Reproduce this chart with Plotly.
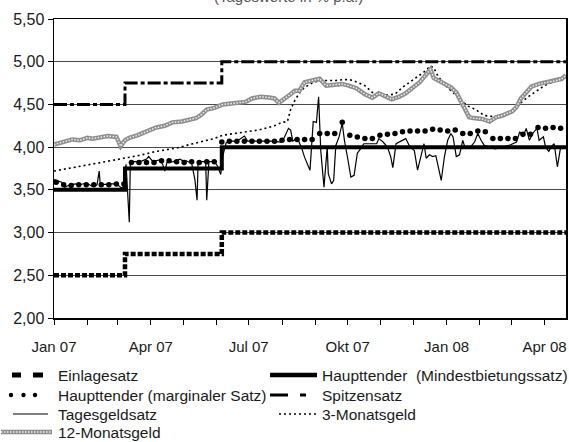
import plotly.graph_objects as go
import pandas as pd

# ---------------- data ----------------
policy_dates = ["2007-01-01", "2007-03-08", "2007-06-06", "2008-04-21"]
einlagesatz = [2.50, 2.75, 3.00, 3.00]
haupttender_min = [3.50, 3.75, 4.00, 4.00]
spitzensatz = [4.50, 4.75, 5.00, 5.00]

# weekly marginal rate of the main refinancing operations (from 3 Jan 2007)
marginal_start = "2007-01-03"
marginal = [3.59, 3.56, 3.55, 3.56, 3.56, 3.56, 3.56, 3.56, 3.57, 3.57,
            3.82, 3.82, 3.82, 3.82, 3.84, 3.84, 3.83, 3.82, 3.83, 3.82,
            3.83, 3.83, 4.06, 4.07, 4.07, 4.07, 4.07, 4.07, 4.07, 4.07,
            4.08, 4.09, 4.09, 4.09, 4.09, 4.16, 4.16, 4.16, 4.29, 4.14,
            4.12, 4.10, 4.10, 4.14, 4.15, 4.16, 4.18, 4.19, 4.19, 4.19,
            4.21, 4.20, 4.19, 4.20, 4.16, 4.16, 4.19, 4.18, 4.10, 4.10,
            4.10, 4.10, 4.15, 4.15, 4.23, 4.22, 4.23, 4.22]

tages_dates = [
    "2007-01-01", "2007-01-05", "2007-01-08", "2007-01-11", "2007-01-16", "2007-01-21",
    "2007-01-25", "2007-01-31", "2007-02-06", "2007-02-10", "2007-02-12", "2007-02-13",
    "2007-02-18", "2007-02-22", "2007-02-28", "2007-03-05", "2007-03-07", "2007-03-09",
    "2007-03-12", "2007-03-13", "2007-03-19", "2007-03-24", "2007-03-28", "2007-03-30",
    "2007-04-03", "2007-04-09", "2007-04-12", "2007-04-14", "2007-04-16", "2007-04-22",
    "2007-04-28", "2007-05-01", "2007-05-04", "2007-05-09", "2007-05-12", "2007-05-14",
    "2007-05-15", "2007-05-22", "2007-05-23", "2007-05-25", "2007-05-30", "2007-06-02",
    "2007-06-05", "2007-06-07", "2007-06-10", "2007-06-13", "2007-06-20", "2007-06-27",
    "2007-06-30", "2007-07-09", "2007-07-22", "2007-07-31", "2007-08-03", "2007-08-07",
    "2007-08-09", "2007-08-11", "2007-08-15", "2007-08-19", "2007-08-22", "2007-08-27",
    "2007-08-30", "2007-09-02", "2007-09-04", "2007-09-06", "2007-09-09", "2007-09-12",
    "2007-09-13", "2007-09-16", "2007-09-18", "2007-09-20", "2007-09-23", "2007-09-26",
    "2007-09-28", "2007-10-01", "2007-10-04", "2007-10-07", "2007-10-10", "2007-10-13",
    "2007-10-16", "2007-10-28", "2007-10-30", "2007-11-03", "2007-11-07", "2007-11-10",
    "2007-11-12", "2007-11-15", "2007-11-21", "2007-11-24", "2007-11-28", "2007-12-02",
    "2007-12-05", "2007-12-08", "2007-12-11", "2007-12-13", "2007-12-16", "2007-12-19",
    "2007-12-22", "2007-12-27", "2007-12-30", "2008-01-02", "2008-01-05", "2008-01-07",
    "2008-01-10", "2008-01-13", "2008-01-16", "2008-01-18", "2008-01-23", "2008-01-27",
    "2008-01-30", "2008-02-02", "2008-02-05", "2008-02-10", "2008-02-15", "2008-02-22",
    "2008-02-28", "2008-03-06", "2008-03-09", "2008-03-12", "2008-03-15", "2008-03-18",
    "2008-03-21", "2008-03-25", "2008-03-27", "2008-03-31", "2008-04-02", "2008-04-05",
    "2008-04-07", "2008-04-10", "2008-04-13", "2008-04-16", "2008-04-18", "2008-04-21"]
tagesgeld = [
    3.62, 3.60, 3.59, 3.53, 3.56, 3.57,
    3.56, 3.58, 3.54, 3.56, 3.72, 3.56,
    3.57, 3.57, 3.57, 3.52, 3.55, 3.80,
    3.12, 3.83, 3.83, 3.84, 3.86, 3.89,
    3.83, 3.85, 3.80, 3.72, 3.82, 3.83,
    3.86, 3.84, 3.84, 3.81, 3.62, 3.38,
    3.83, 3.83, 3.38, 3.83, 3.83, 3.78,
    3.68, 3.90, 4.05, 4.07, 4.07, 4.13,
    4.07, 4.07, 4.07, 4.06, 4.11, 4.22,
    4.20, 4.07, 4.11, 4.00, 3.88, 3.73,
    4.30, 4.29, 4.59, 3.96, 3.53, 4.00,
    3.69, 3.57, 3.61, 4.02, 4.12, 4.28,
    4.08, 3.87, 3.65, 3.67, 3.93, 3.98,
    4.04, 4.04, 4.10, 4.06, 4.00, 3.89,
    3.76, 4.04, 4.08, 4.10, 4.00, 3.96,
    3.73, 3.89, 4.04, 3.87, 3.91, 3.89,
    3.90, 3.61, 3.89, 4.08, 4.16, 4.12,
    3.89, 3.91, 4.08, 4.00, 4.00, 4.06,
    4.16, 4.08, 4.02, 4.00, 3.98, 4.00,
    4.02, 4.06, 4.18, 4.12, 4.22, 4.08,
    4.16, 4.22, 4.08, 4.12, 4.00, 3.95,
    4.00, 4.04, 3.77, 4.00, 3.98, 4.00]

m3_dates = [
    "2007-01-01", "2007-01-18", "2007-02-01", "2007-02-20", "2007-03-08", "2007-03-20",
    "2007-04-06", "2007-04-25", "2007-05-10", "2007-05-30", "2007-06-07", "2007-06-25",
    "2007-07-10", "2007-07-25", "2007-08-01", "2007-08-06", "2007-08-09", "2007-08-13",
    "2007-08-17", "2007-08-22", "2007-08-29", "2007-09-05", "2007-09-12", "2007-09-20",
    "2007-09-26", "2007-10-03", "2007-10-10", "2007-10-17", "2007-10-24", "2007-10-31",
    "2007-11-07", "2007-11-14", "2007-11-21", "2007-11-28", "2007-12-05", "2007-12-11",
    "2007-12-17", "2007-12-20", "2007-12-24", "2007-12-31", "2008-01-07", "2008-01-14",
    "2008-01-21", "2008-01-28", "2008-02-05", "2008-02-12", "2008-02-19", "2008-02-26",
    "2008-03-04", "2008-03-11", "2008-03-18", "2008-03-25", "2008-04-01", "2008-04-08",
    "2008-04-15", "2008-04-21"]
monatsgeld_3 = [
    3.72, 3.76, 3.79, 3.83, 3.87, 3.90,
    3.95, 3.99, 4.04, 4.10, 4.14, 4.17,
    4.20, 4.25, 4.29, 4.30, 4.44, 4.55,
    4.63, 4.70, 4.75, 4.78, 4.78, 4.78,
    4.79, 4.79, 4.76, 4.72, 4.64, 4.62,
    4.61, 4.62, 4.70, 4.76, 4.83, 4.88,
    4.95, 4.93, 4.83, 4.72, 4.64, 4.55,
    4.48, 4.44, 4.37, 4.36, 4.37, 4.39,
    4.43, 4.53, 4.60, 4.66, 4.72, 4.76,
    4.79, 4.82]

m12_dates = [
    "2007-01-01", "2007-01-10", "2007-01-18", "2007-01-25", "2007-02-01", "2007-02-06",
    "2007-02-12", "2007-02-20", "2007-02-28", "2007-03-04", "2007-03-08", "2007-03-12",
    "2007-03-20", "2007-03-28", "2007-04-06", "2007-04-14", "2007-04-21", "2007-04-30",
    "2007-05-07", "2007-05-13", "2007-05-18", "2007-05-23", "2007-05-30", "2007-06-07",
    "2007-06-15", "2007-06-22", "2007-06-28", "2007-07-04", "2007-07-12", "2007-07-20",
    "2007-07-25", "2007-07-29", "2007-08-03", "2007-08-08", "2007-08-13", "2007-08-17",
    "2007-08-22", "2007-08-29", "2007-09-05", "2007-09-11", "2007-09-18", "2007-09-26",
    "2007-10-02", "2007-10-09", "2007-10-17", "2007-10-24", "2007-10-30", "2007-11-05",
    "2007-11-11", "2007-11-18", "2007-11-24", "2007-12-01", "2007-12-07", "2007-12-13",
    "2007-12-17", "2007-12-20", "2007-12-24", "2007-12-31", "2008-01-05", "2008-01-10",
    "2008-01-14", "2008-01-18", "2008-01-22", "2008-01-26", "2008-02-03", "2008-02-10",
    "2008-02-16", "2008-02-22", "2008-02-27", "2008-03-02", "2008-03-06", "2008-03-10",
    "2008-03-15", "2008-03-20", "2008-03-27", "2008-04-05", "2008-04-12", "2008-04-17",
    "2008-04-21"]
monatsgeld_12 = [
    4.03, 4.06, 4.09, 4.08, 4.11, 4.10,
    4.11, 4.13, 4.12, 4.01, 4.08, 4.11,
    4.14, 4.18, 4.23, 4.25, 4.29, 4.30,
    4.32, 4.34, 4.38, 4.44, 4.46, 4.50,
    4.51, 4.52, 4.53, 4.57, 4.59, 4.58,
    4.57, 4.52, 4.56, 4.61, 4.66, 4.66,
    4.76, 4.78, 4.80, 4.72, 4.73, 4.74,
    4.72, 4.69, 4.62, 4.58, 4.63, 4.60,
    4.56, 4.59, 4.63, 4.70, 4.76, 4.85,
    4.91, 4.81, 4.78, 4.73, 4.70, 4.64,
    4.55, 4.45, 4.35, 4.34, 4.33, 4.30,
    4.35, 4.37, 4.40, 4.42, 4.47, 4.57,
    4.64, 4.71, 4.74, 4.76, 4.78, 4.80,
    4.84]

month_ticks = ["2007-01-01", "2007-02-01", "2007-03-01", "2007-04-01", "2007-05-01",
               "2007-06-01", "2007-07-01", "2007-08-01", "2007-09-01", "2007-10-01",
               "2007-11-01", "2007-12-01", "2008-01-01", "2008-02-01", "2008-03-01",
               "2008-04-01"]
month_labels = ["Jan 07", "", "", "Apr 07", "", "", "Jul 07", "", "", "Okt 07",
                "", "", "Jan 08", "", "", "Apr 08"]
y_ticks = [2.0, 2.5, 3.0, 3.5, 4.0, 4.5, 5.0, 5.5]

legend_labels = ["Einlagesatz", "Haupttender\u00a0\u00a0(Mindestbietungssatz)",
                 "Haupttender (marginaler Satz)", "Spitzensatz",
                 "Tagesgeldsatz", "3-Monatsgeld", "12-Monatsgeld"]
subtitle = "(Tageswerte in % p.a.)"

# ---------------- figure ----------------
W, H = 569, 442
L, R, T, B = 54, 566, 19, 318
FONT = "Liberation Sans, Arial, sans-serif"

marginal_dates = pd.date_range(marginal_start, periods=len(marginal), freq="7D")

M12_EDGE = "#8e8e8e"
M12_CORE = "#f0f0f0"

fig = go.Figure()
fig.add_trace(go.Scatter(x=policy_dates, y=einlagesatz, mode="lines", line_shape="hv",
                         line=dict(color="black", width=4.5, dash="5px,2px"),
                         name=legend_labels[0]))
fig.add_trace(go.Scatter(x=policy_dates, y=haupttender_min, mode="lines", line_shape="hv",
                         line=dict(color="black", width=4), name=legend_labels[1]))
fig.add_trace(go.Scatter(x=marginal_dates, y=marginal, mode="markers",
                         marker=dict(color="black", size=5.5, symbol="circle"),
                         name=legend_labels[2]))
fig.add_trace(go.Scatter(x=policy_dates, y=spitzensatz, mode="lines", line_shape="hv",
                         line=dict(color="black", width=3, dash="13px,3px,4px,3px"),
                         name=legend_labels[3]))
fig.add_trace(go.Scatter(x=tages_dates, y=tagesgeld, mode="lines",
                         line=dict(color="black", width=1.2), name=legend_labels[4]))
fig.add_trace(go.Scatter(x=m3_dates, y=monatsgeld_3, mode="lines",
                         line=dict(color="black", width=1.6, dash="2px,3px"),
                         name=legend_labels[5]))
fig.add_trace(go.Scatter(x=m12_dates, y=monatsgeld_12, mode="lines",
                         line=dict(color=M12_EDGE, width=4.5), name=legend_labels[6]))
fig.add_trace(go.Scatter(x=m12_dates, y=monatsgeld_12, mode="lines",
                         line=dict(color=M12_CORE, width=1.5, dash="1.5px,1.5px"),
                         showlegend=False, hoverinfo="skip"))


def px(x):
    return (x - L) / (R - L)


def py(y):
    return (B - y) / (B - T)


shapes = []
annotations = []
rows = [375, 395, 414, 432]
col_text = [56, 320]


def hline(x0, x1, y, width, color="black", dash="solid"):
    shapes.append(dict(type="line", xref="paper", yref="paper",
                       x0=px(x0), x1=px(x1), y0=py(y), y1=py(y),
                       line=dict(color=color, width=width, dash=dash)))


# row 1
hline(12, 21, rows[0], 5)
hline(33, 43, rows[0], 5)
hline(270, 317, rows[0], 4.5)
# row 2
for cx in (11, 23.5, 35):
    shapes.append(dict(type="circle", xref="paper", yref="paper",
                       x0=px(cx - 2.2), x1=px(cx + 2.2), y0=py(rows[1] + 2.2), y1=py(rows[1] - 2.2),
                       fillcolor="black", line=dict(width=0)))
hline(270, 288, rows[1], 3)
hline(300, 306, rows[1], 3)
# row 3
hline(13, 48, rows[2], 1.2)
hline(279, 316, rows[2], 1.5, dash="2px,3px")
# row 4
hline(1, 52, rows[3], 4.5, color=M12_EDGE)
hline(1, 52, rows[3], 1.5, color=M12_CORE, dash="1.5px,1.5px")

label_pos = [(0, 0), (1, 0), (0, 1), (1, 1), (0, 2), (1, 2), (0, 3)]
for lab, (c, r) in zip(legend_labels, label_pos):
    annotations.append(dict(text=lab, xref="paper", yref="paper", x=px(col_text[c]),
                            y=py(rows[r]), xanchor="left", yanchor="middle",
                            showarrow=False, font=dict(family=FONT, size=15.5, color="#1a1a1a")))

annotations.append(dict(text=subtitle, xref="paper", yref="paper", x=px(288), y=py(-4),
                        xanchor="center", yanchor="middle", showarrow=False,
                        font=dict(family=FONT, size=15, color="#555")))

fig.update_layout(
    width=W, height=H,
    margin=dict(l=L, r=W - R, t=T, b=H - B, pad=0),
    paper_bgcolor="white", plot_bgcolor="white",
    showlegend=False,
    separators=",.",
    font=dict(family=FONT, size=15, color="#1a1a1a"),
    shapes=shapes, annotations=annotations,
    xaxis=dict(type="date", range=["2007-01-01", "2008-04-21"],
               tickvals=month_ticks, ticktext=month_labels,
               ticks="outside", ticklen=5, tickwidth=1, tickcolor="black",
               showline=True, linecolor="black", linewidth=1.5, mirror=True,
               showgrid=False, zeroline=False, ticklabelstandoff=9,
               automargin=False,
               tickfont=dict(family=FONT, size=15)),
    yaxis=dict(range=[2.0, 5.5], tickvals=y_ticks, tickformat=".2f",
               ticks="outside", ticklen=5, tickwidth=1, tickcolor="black",
               showline=True, linecolor="black", linewidth=1.5, mirror=True,
               showgrid=True, gridcolor="#4a4a4a", gridwidth=1, zeroline=False,
               automargin=False,
               tickfont=dict(family=FONT, size=16)),
)

fig.write_html("out.html", config={"displayModeBar": False, "staticPlot": True},
               post_script="document.body.style.margin='0px';document.body.style.overflow='hidden';")
